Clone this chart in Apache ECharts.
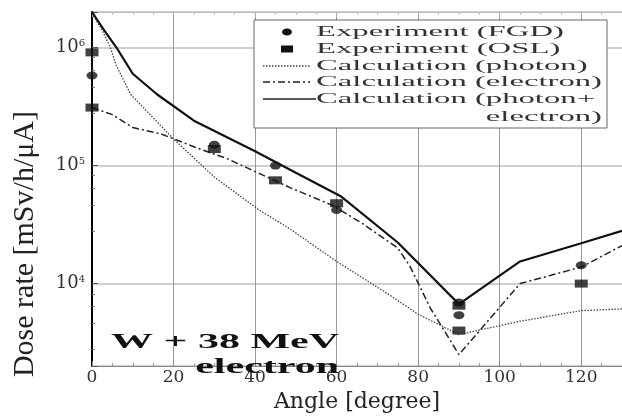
<!DOCTYPE html>
<html><head><meta charset="utf-8">
<script src="https://cdn.jsdelivr.net/npm/echarts@6/dist/echarts.min.js"></script>
<style>html,body{margin:0;padding:0;background:#fff}#c{width:622px;height:418px}</style>
</head><body><div id="c"></div>
<script>
// ---- data (angle in degrees, dose rate in mSv/h/uA) ----
const angleFGD = [0, 30, 45, 60, 90, 90, 120];
const doseFGD  = [5.8e5, 1.5e5, 1.0e5, 4.2e4, 6.9e3, 5.4e3, 1.43e4];
const angleOSL = [0, 0, 30, 45, 60, 90, 90, 120];
const doseOSL  = [9.1e5, 3.1e5, 1.38e5, 7.5e4, 4.8e4, 6.5e3, 4.0e3, 1.0e4];

const anglePhoton = [0, 2.5, 4.5, 6, 9.5, 20, 30, 41, 48.6, 60, 73, 80, 88, 90, 105, 120, 130];
const dosePhoton  = [1.95e6, 1.4e6, 1.0e6, 7.0e5, 4.0e5, 1.68e5, 8.0e4, 4.2e4, 2.9e4, 1.54e4, 8.0e3, 5.5e3, 4.0e3, 3.7e3, 4.8e3, 5.9e3, 6.1e3];

const angleElectron = [0, 5, 10, 17, 26, 33, 48.6, 59, 66.5, 75, 78, 83, 90, 105, 120, 130];
const doseElectron  = [3.1e5, 2.7e5, 2.1e5, 1.85e5, 1.4e5, 1.15e5, 6.5e4, 4.6e4, 3.2e4, 2.0e4, 1.4e4, 6.2e3, 2.5e3, 1.0e4, 1.38e4, 2.1e4];

const angleTotal = [0, 3, 6, 10, 16, 25, 40, 48.6, 61, 75, 90, 105, 120, 130];
const doseTotal  = [2.0e6, 1.4e6, 1.0e6, 6.0e5, 4.0e5, 2.4e5, 1.32e5, 9.2e4, 5.5e4, 2.23e4, 6.7e3, 1.54e4, 2.2e4, 2.8e4];

const legendNames = ['Experiment (FGD)', 'Experiment (OSL)', 'Calculation (photon)', 'Calculation (electron)', 'Calculation (photon+', 'electron)'];
const annotation = ['W + 38 MeV', 'electron'];
const xName = 'Angle [degree]';
const yName = 'Dose rate [mSv/h/\u03bcA]';

const zip = (a, b) => a.map((v, i) => [v, b[i]]);

// text measuring (to stretch text horizontally like the reference)
const mctx = document.createElement('canvas').getContext('2d');
function textW(t, font) { mctx.font = font; return mctx.measureText(t).width; }
const legFont = '15px "Liberation Serif"';
const legScale = 286 / textW(legendNames[3], legFont);
const annFont = 'bold 21px "Liberation Serif"';
const annScale = 228 / textW(annotation[0], annFont);

const rowsY = [32, 49, 66, 82, 99, 117];
const gfx = [
  {type:'rect', z:10, shape:{x:254, y:20, width:353, height:108}, style:{fill:'#fff', stroke:'#666', lineWidth:1}},
  {type:'ellipse', z:11, shape:{cx:287, cy:rowsY[0], rx:5, ry:3.5}, style:{fill:'#111'}},
  {type:'rect', z:11, shape:{x:281, y:rowsY[1]-3.5, width:12, height:7}, style:{fill:'#111'}},
  {type:'line', z:11, shape:{x1:263, y1:rowsY[2], x2:310, y2:rowsY[2]}, style:{stroke:'#444', lineWidth:1.3, lineDash:[1.5,1.5]}},
  {type:'line', z:11, shape:{x1:263, y1:rowsY[3], x2:310, y2:rowsY[3]}, style:{stroke:'#222', lineWidth:1.3, lineDash:[7,3,2,3]}},
  {type:'line', z:11, shape:{x1:263, y1:rowsY[4], x2:316, y2:rowsY[4]}, style:{stroke:'#222', lineWidth:1.5}}
];
legendNames.forEach((n, i) => {
  const last = i === legendNames.length - 1;
  gfx.push({type:'text', z:11, x: last ? 602 : 316, y: rowsY[i], scaleX: legScale,
    style:{text:n, font:legFont, fill:'#333', textAlign: last ? 'right' : 'left', textVerticalAlign:'middle'}});
});
gfx.push({type:'text', z:11, x:339, y:355, scaleX: annScale,
  style:{text: annotation.join('\n'), font: annFont, fill:'#111', textAlign:'right', textVerticalAlign:'middle', lineHeight:25}});

const chart = echarts.init(document.getElementById('c'), null, {renderer:'canvas'});
chart.setOption({
  animation:false,
  backgroundColor:'#fff',
  grid:{left:92, right:0, top:12, bottom:30, containLabel:false},
  xAxis:[{
    type:'value', min:0, max:130, interval:20,
    axisLine:{show:true, onZero:false, lineStyle:{color:'#888', width:1}},
    axisTick:{show:true, inside:true, length:5, lineStyle:{color:'#888'}},
    minorTick:{show:true, splitNumber:4, length:3, lineStyle:{color:'#999'}},
    splitLine:{show:true, lineStyle:{color:'#999', width:1}},
    axisLabel:{fontFamily:'DejaVu Serif', fontSize:17, color:'#333', margin:3, showMaxLabel:false},
    name:xName, nameLocation:'middle', nameGap:20,
    nameTextStyle:{fontFamily:'DejaVu Serif', fontSize:22, color:'#222'}
  },{
    type:'value', position:'top', min:0, max:130, interval:20,
    axisLine:{show:true, onZero:false, lineStyle:{color:'#bbb', width:1}},
    axisTick:{show:true, inside:true, length:5, lineStyle:{color:'#aaa'}},
    minorTick:{show:true, splitNumber:4, length:3, lineStyle:{color:'#bbb'}},
    axisLabel:{show:false}, splitLine:{show:false}
  }],
  yAxis:{
    type:'log', logBase:10, min:2000, max:2e6,
    axisLine:{show:true, onZero:false, lineStyle:{color:'#000', width:2}},
    axisTick:{show:true, inside:true, length:6, lineStyle:{color:'#555'}},
    minorTick:{show:true, length:3, lineStyle:{color:'#777'}},
    splitLine:{show:true, lineStyle:{color:'#cfcfcf', width:2}},
    axisLabel:{
      margin:7, showMinLabel:false, showMaxLabel:false,
      formatter:function(v){
        const e = Math.log10(v), r = Math.round(e);
        if (Math.abs(e - r) > 1e-6) return '';
        return '{b|10}{s|' + r + '}';
      },
      rich:{
        b:{fontFamily:'DejaVu Serif', fontSize:18, color:'#333'},
        s:{fontFamily:'DejaVu Serif', fontSize:10, color:'#333', verticalAlign:'top', padding:[0,0,8,0]}
      }
    },
    name:yName, nameLocation:'middle', nameGap:52, nameRotate:90,
    nameTextStyle:{fontFamily:'Liberation Serif', fontSize:30, color:'#222', padding:[0,110,0,0]}
  },
  graphic: gfx,
  series:[
    {type:'line', name:'Calculation (photon)', data:zip(anglePhoton, dosePhoton), showSymbol:false, symbol:'none',
     lineStyle:{color:'#444', width:1.3, type:[1.5,1.5]}, z:2},
    {type:'line', name:'Calculation (electron)', data:zip(angleElectron, doseElectron), showSymbol:false, symbol:'none',
     lineStyle:{color:'#222', width:1.5, type:[7,3,2,3]}, z:3},
    {type:'line', name:'Calculation (photon+electron)', data:zip(angleTotal, doseTotal), showSymbol:false, symbol:'none',
     lineStyle:{color:'#111', width:2.2}, z:4},
    {type:'scatter', name:'Experiment (FGD)', data:zip(angleFGD, doseFGD), symbol:'circle', symbolSize:[11,8],
     itemStyle:{color:'#111'}, z:6},
    {type:'scatter', name:'Experiment (OSL)', data:zip(angleOSL, doseOSL), symbol:'rect', symbolSize:[13,8],
     itemStyle:{color:'#111'}, z:5}
  ]
});
</script></body></html>
